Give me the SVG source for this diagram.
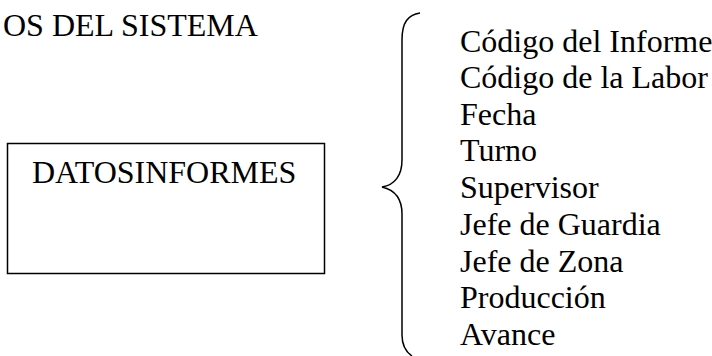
<svg xmlns="http://www.w3.org/2000/svg" width="712" height="356" viewBox="0 0 712 356">
<style>
text{font-family:"Liberation Serif","Times New Roman",serif;font-size:32px;fill:#000}
.box{fill:#fff;stroke:#000;stroke-width:1.5}
.brace{fill:none;stroke:#000;stroke-width:1.5}
</style>
<rect width="712" height="356" fill="#fff"/>
<g id="title"><text x="3" y="35.5">OS DEL SISTEMA</text></g>
<g id="datosinformes">
<rect class="box" x="7.5" y="143.5" width="317" height="130"/>
<text x="32" y="183">DATOSINFORMES</text>
</g>
<g id="connectors">
<path class="brace" d="M420 13 C408 15,402 22,402 40 L402 160 C402 175,395 185,382 187 C395 190,402 198,402 214 L402 335 C402 345,406 352,412 356"/>
</g>
<g id="attributes">
<text x="460" y="51.5">Código del Informe</text>
<text x="460" y="88">Código de la Labor</text>
<text x="460" y="124.5">Fecha</text>
<text x="460" y="161">Turno</text>
<text x="460" y="198">Supervisor</text>
<text x="460" y="235">Jefe de Guardia</text>
<text x="460" y="271.5">Jefe de Zona</text>
<text x="460" y="308">Producción</text>
<text x="460" y="345">Avance</text>
</g>
</svg>
